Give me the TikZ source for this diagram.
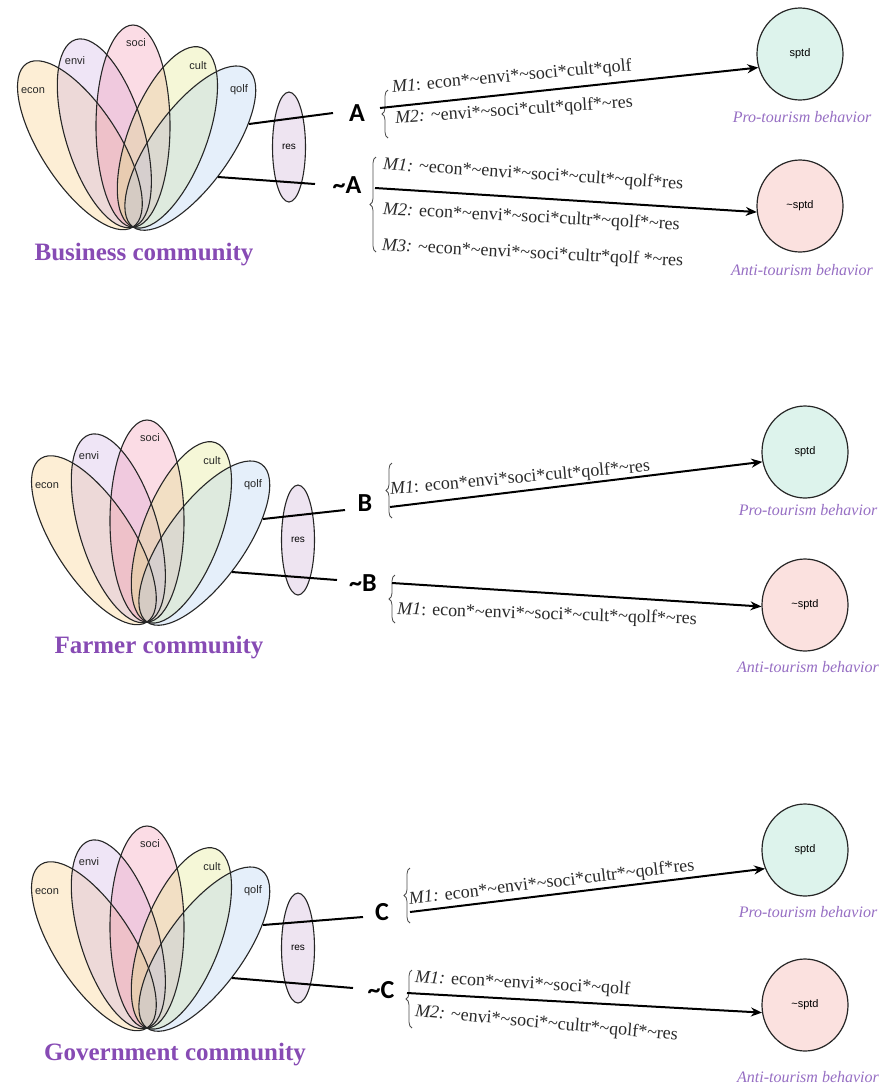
\documentclass[tikz,border=0pt]{standalone}
\usepackage{fontspec}
\setmainfont{Liberation Serif}
\newfontfamily\lsans{Liberation Sans}
\newfontfamily\carl{Carlito}
\usetikzlibrary{shapes.geometric,decorations.pathreplacing,arrows.meta}
\definecolor{cEcon}{HTML}{F7C873}
\definecolor{cEnvi}{HTML}{C9A8E0}
\definecolor{cSoci}{HTML}{F28AA8}
\definecolor{cCult}{HTML}{DDE67A}
\definecolor{cQolf}{HTML}{A9CBEE}
\definecolor{resfill}{HTML}{EEE4F1}
\definecolor{profill}{HTML}{DDF3EC}
\definecolor{antifill}{HTML}{FBE1DF}
\definecolor{behavcol}{RGB}{150,110,195}
\definecolor{commcol}{RGB}{135,75,180}
\definecolor{txtcol}{HTML}{2A2A2A}
\newcommand{\tld}{\textasciitilde}
\tikzset{
  petalline/.style={draw=black!85, line width=1.1pt},
  petallab/.style={font=\lsans\fontsize{11}{12}\selectfont, text=black!85, inner sep=1pt},
  resnode/.style={ellipse, draw=black!85, line width=1.1pt, fill=resfill, minimum width=33pt, minimum height=110pt, inner sep=0pt, font=\lsans\fontsize{10}{11}\selectfont},
  pronode/.style={ellipse, draw=black!85, line width=1.2pt, fill=profill, minimum width=86pt, minimum height=92pt, inner sep=0pt, font=\lsans\fontsize{11}{12}\selectfont},
  antinode/.style={ellipse, draw=black!85, line width=1.2pt, fill=antifill, minimum width=86pt, minimum height=92pt, inner sep=0pt, font=\lsans\fontsize{11}{12}\selectfont},
  letter/.style={font=\carl\bfseries\fontsize{26}{28}\selectfont, inner sep=0pt},
  conn/.style={line width=2pt, black},
  arr/.style={line width=2pt, black, -{Stealth[length=11pt,width=9pt]}},
  bracest/.style={decorate, decoration={brace, amplitude=6pt}, line width=0.8pt, black!70},
  formula/.style={anchor=west, font=\fontsize{18}{20}\selectfont, text=txtcol, inner sep=0pt},
  behav/.style={font=\itshape\fontsize{16}{18}\selectfont, text=behavcol, inner sep=0pt},
  comm/.style={font=\bfseries\fontsize{25}{28}\selectfont, text=commcol, inner sep=0pt}
}
\newcommand{\petalflower}[3]{%
  \begin{scope}[shift={(#1,#2)}]
    \foreach \ang/\h/\wid/\col in {-33/97.5/39/cEcon, -17/98/39/cEnvi, 0/101/37/cSoci, 21/96/39/cCult, 36/97.5/39/cQolf}{
      \fill[\col, fill opacity=0.3, rotate=-\ang] (0,-\h) ellipse [x radius=\wid pt, y radius=\h pt];
    }
    \foreach \ang/\h/\wid in {-33/97.5/39, -17/98/39, 0/101/37, 21/96/39, 36/97.5/39}{
      \draw[petalline, rotate=-\ang] (0,-\h) ellipse [x radius=\wid pt, y radius=\h pt];
    }
    \node[petallab] (econ#3) at (-100,-136) {econ};
    \node[petallab] (envi#3) at (-58,-166) {envi};
    \node[petallab] (soci#3) at (3,-184) {soci};
    \node[petallab] (cult#3) at (65,-161) {cult};
    \node[petallab] (qolf#3) at (106,-137) {qolf};
    \coordinate (qa#3) at (116,-103);
    \coordinate (qb#3) at (85,-50);
  \end{scope}}
\begin{document}
\begin{tikzpicture}[x=1pt,y=-1pt]
\path[use as bounding box] (0,0) rectangle (891,1088);

% ---------------- Panel 1: Business ----------------
\petalflower{133}{227}{1}
\node[resnode] (res1) at (289,147) {res};
\node[comm] (comm1) at (144,255) {Business community};
\node[letter] (A) at (357,113) {A};
\node[letter] (nA) at (347,185) {\tld A};
\coordinate (Ain) at (333,113);
\coordinate (nAin) at (315,184);
\draw[conn] (qa1) -- (Ain);
\draw[conn] (qb1) -- (nAin);
\node[pronode] (pro1) at (800,54) {sptd};
\node[antinode] (anti1) at (800,206) {\tld sptd};
\node[behav] (prol1) at (802,117) {Pro-tourism behavior};
\node[behav] (antil1) at (802,270) {Anti-tourism behavior};
\draw[bracest] (388,138) -- (388,90);
\draw[bracest] (376,252) -- (376,157);
\node[formula, rotate=5.2] (A1) at (392,88) {\textit{M1}: econ*\tld envi*\tld soci*cult*qolf};
\node[formula, rotate=3.9] (A2) at (395,119) {\textit{M2:} \tld envi*\tld soci*cult*qolf*\tld res};
\node[formula, rotate=-3.8] (nA1) at (383,165) {\textit{M1:} \tld econ*\tld envi*\tld soci*\tld cult*\tld qolf*res};
\node[formula, rotate=-3] (nA2) at (383,210) {\textit{M2:} econ*\tld envi*\tld soci*cultr*\tld qolf*\tld res};
\node[formula, rotate=-3] (nA3) at (382,246) {\textit{M3:} \tld econ*\tld envi*\tld soci*cultr*qolf *\tld res};
\coordinate (Aout) at (380,108);
\coordinate (nAout) at (375,188);
\draw[arr] (Aout) -- (pro1.198);
\draw[arr] (nAout) -- (anti1.188);

% ---------------- Panel 2: Farmer ----------------
\petalflower{147}{622}{2}
\node[resnode] (res2) at (298,540) {res};
\node[comm] (comm2) at (159,648) {Farmer community};
\node[letter] (B) at (365,503) {B};
\node[letter] (nB) at (363,583) {\tld B};
\coordinate (Bin) at (345,510);
\coordinate (nBin) at (337,580);
\draw[conn] (qa2) -- (Bin);
\draw[conn] (qb2) -- (nBin);
\node[pronode] (pro2) at (805,452) {sptd};
\node[antinode] (anti2) at (805,605) {\tld sptd};
\node[behav] (prol2) at (808,510) {Pro-tourism behavior};
\node[behav] (antil2) at (808,667) {Anti-tourism behavior};
\draw[bracest] (392,518) -- (392,463);
\draw[bracest] (395,623) -- (395,575);
\node[formula, rotate=5.1] (B1) at (390,490) {\textit{M1}: econ*envi*soci*cult*qolf*\tld res};
\node[formula, rotate=-1.9] (nB1) at (397,610) {\textit{M1}: econ*\tld envi*\tld soci*\tld cult*\tld qolf*\tld res};
\coordinate (Bout) at (390,507);
\coordinate (nBout) at (392,583);
\draw[arr] (Bout) -- (pro2.193);
\draw[arr] (nBout) -- (anti2.182);

% ---------------- Panel 3: Government ----------------
\petalflower{147}{1028}{3}
\node[resnode] (res3) at (298,948) {res};
\node[comm] (comm3) at (175,1055) {Government community};
\node[letter] (C) at (382,912) {C};
\node[letter] (nC) at (381,990) {\tld C};
\coordinate (Cin) at (363,917);
\coordinate (nCin) at (353,988);
\draw[conn] (qa3) -- (Cin);
\draw[conn] (qb3) -- (nCin);
\node[pronode] (pro3) at (805,850) {sptd};
\node[antinode] (anti3) at (805,1005) {\tld sptd};
\node[behav] (prol3) at (808,912) {Pro-tourism behavior};
\node[behav] (antil3) at (808,1077) {Anti-tourism behavior};
\draw[bracest] (410,923) -- (410,868);
\draw[bracest] (412,1028) -- (412,970);
\node[formula, rotate=6.8] (C1) at (409,900) {\textit{M1:} econ*\tld envi*\tld soci*cultr*\tld qolf*res};
\node[formula, rotate=-3.2] (nC1) at (415,978) {\textit{M1:} econ*\tld envi*\tld soci*\tld qolf};
\node[formula, rotate=-5.2] (nC2) at (415,1012) {\textit{M2:} \tld envi*\tld soci*\tld cultr*\tld qolf*\tld res};
\coordinate (Cout) at (410,912);
\coordinate (nCout) at (407,993);
\draw[arr] (Cout) -- (pro3.205);
\draw[arr] (nCout) -- (anti3.190);
\end{tikzpicture}
\end{document}
